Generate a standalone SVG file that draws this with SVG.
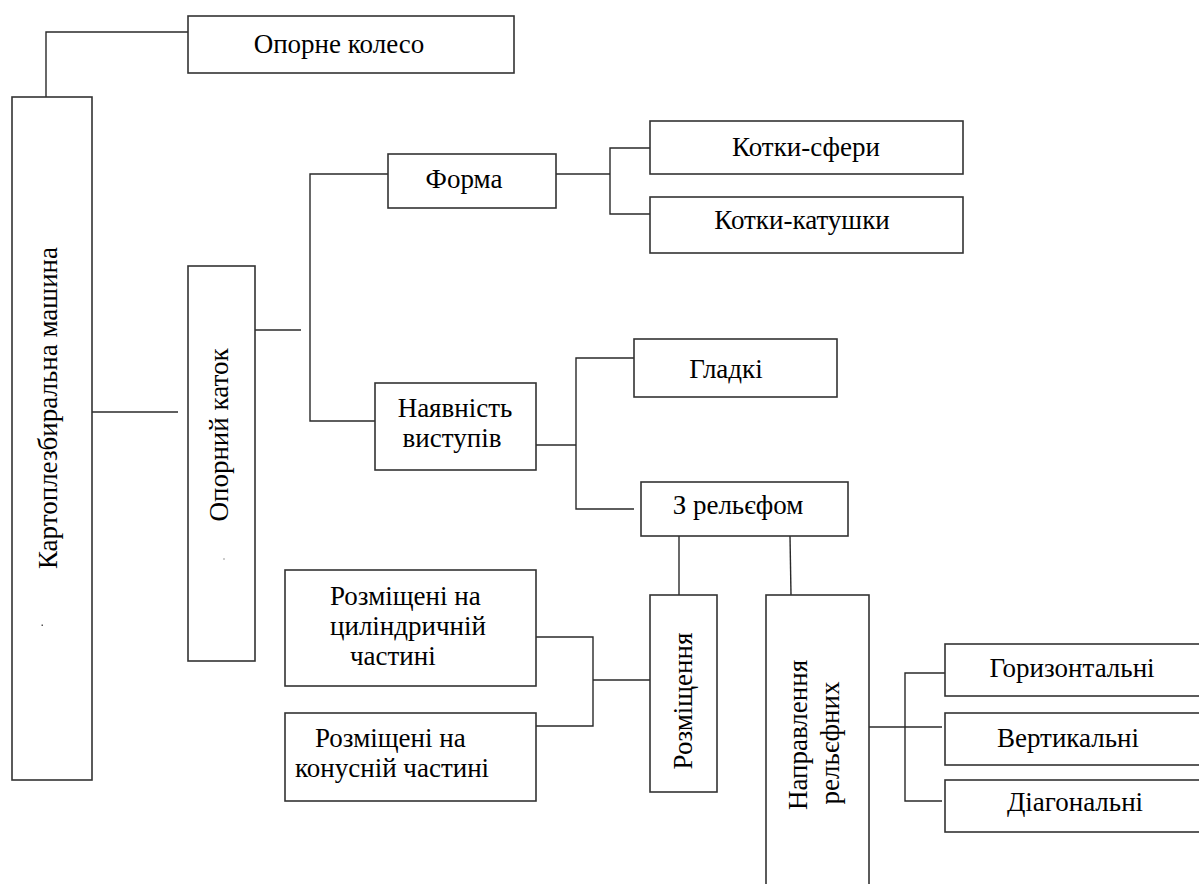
<svg xmlns="http://www.w3.org/2000/svg" width="1199" height="884" viewBox="0 0 1199 884">
<style>
.box{fill:#fff;stroke:#333;stroke-width:1.6}
.ln{fill:none;stroke:#2a2a2a;stroke-width:1.4}
.t{font-family:"Liberation Serif","Times New Roman",serif;font-size:27px;fill:#000;text-anchor:middle}
.ts{font-family:"Liberation Serif","Times New Roman",serif;font-size:27px;fill:#000;text-anchor:start}
</style>
<rect width="1199" height="884" fill="#fff"/>
<g id="connectors">
<path class="ln" d="M46,97 V32 H188"/>
<path class="ln" d="M92,412 H178"/>
<path class="ln" d="M255,330 H301"/>
<path class="ln" d="M388,174 H310 V421 H375"/>
<path class="ln" d="M556,174 H610"/>
<path class="ln" d="M650,148 H610 V214 H650"/>
<path class="ln" d="M536,445 H576"/>
<path class="ln" d="M634,358 H576 V509 H634"/>
<path class="ln" d="M679,536 V595"/>
<path class="ln" d="M790,536 L791,595"/>
<path class="ln" d="M536,637 H593 V726 H536"/>
<path class="ln" d="M593,680 H650"/>
<path class="ln" d="M869,727 H942"/>
<path class="ln" d="M945,673 H905 V801 H942"/>
</g>
<g id="n-koleso"><rect class="box" x="188" y="16" width="326" height="57"/><text class="t" x="339" y="53">Опорне колесо</text></g>
<g id="n-machine"><rect class="box" x="12" y="97" width="80" height="683"/><text class="t" transform="translate(57,408) rotate(-90)">Картоплезбиральна машина</text><rect x="41.5" y="624.5" width="1.5" height="1.5" fill="#555"/></g>
<g id="n-katok"><rect class="box" x="188" y="266" width="67" height="395"/><text class="t" transform="translate(228,435) rotate(-90)">Опорний каток</text><rect x="223" y="558.5" width="2" height="1" fill="#999"/></g>
<g id="n-forma"><rect class="box" x="388" y="154" width="168" height="54"/><text class="t" x="464" y="188">Форма</text></g>
<g id="n-spheres"><rect class="box" x="650" y="121" width="313" height="53"/><text class="t" x="806" y="156">Котки-сфери</text></g>
<g id="n-coils"><rect class="box" x="650" y="197" width="313" height="56"/><text class="t" x="802" y="229">Котки-катушки</text></g>
<g id="n-vystupy"><rect class="box" x="375" y="383" width="161" height="87"/><text class="t" x="455" y="417">Наявність</text><text class="t" x="452" y="447">виступів</text></g>
<g id="n-gladki"><rect class="box" x="634" y="339" width="203" height="58"/><text class="t" x="726" y="378">Гладкі</text></g>
<g id="n-relief"><rect class="box" x="641" y="482" width="207" height="54"/><text class="t" x="738" y="514">З рельєфом</text></g>
<g id="n-cyl"><rect class="box" x="285" y="570" width="251" height="116"/><text class="ts" x="330" y="605">Розміщені на</text><text class="ts" x="330" y="635">циліндричній</text><text class="ts" x="350" y="665">частині</text></g>
<g id="n-cone"><rect class="box" x="285" y="713" width="251" height="88"/><text class="ts" x="315" y="747">Розміщені на</text><text class="ts" x="295" y="777">конусній частині</text></g>
<g id="n-rozm"><rect class="box" x="650" y="595" width="67" height="197"/><text class="t" transform="translate(692,701) rotate(-90)">Розміщення</text></g>
<g id="n-napr"><rect class="box" x="766" y="595" width="103" height="320"/><text class="t" transform="translate(807,735) rotate(-90)">Направлення</text><text class="t" transform="translate(839,743) rotate(-90)">рельєфних</text></g>
<g id="n-horiz"><rect class="box" x="945" y="644" width="280" height="52"/><text class="t" x="1072" y="677">Горизонтальні</text></g>
<g id="n-vert"><rect class="box" x="945" y="713" width="280" height="52"/><text class="t" x="1068" y="747">Вертикальні</text></g>
<g id="n-diag"><rect class="box" x="945" y="780" width="280" height="52"/><text class="t" x="1075" y="811">Діагональні</text></g>
</svg>
